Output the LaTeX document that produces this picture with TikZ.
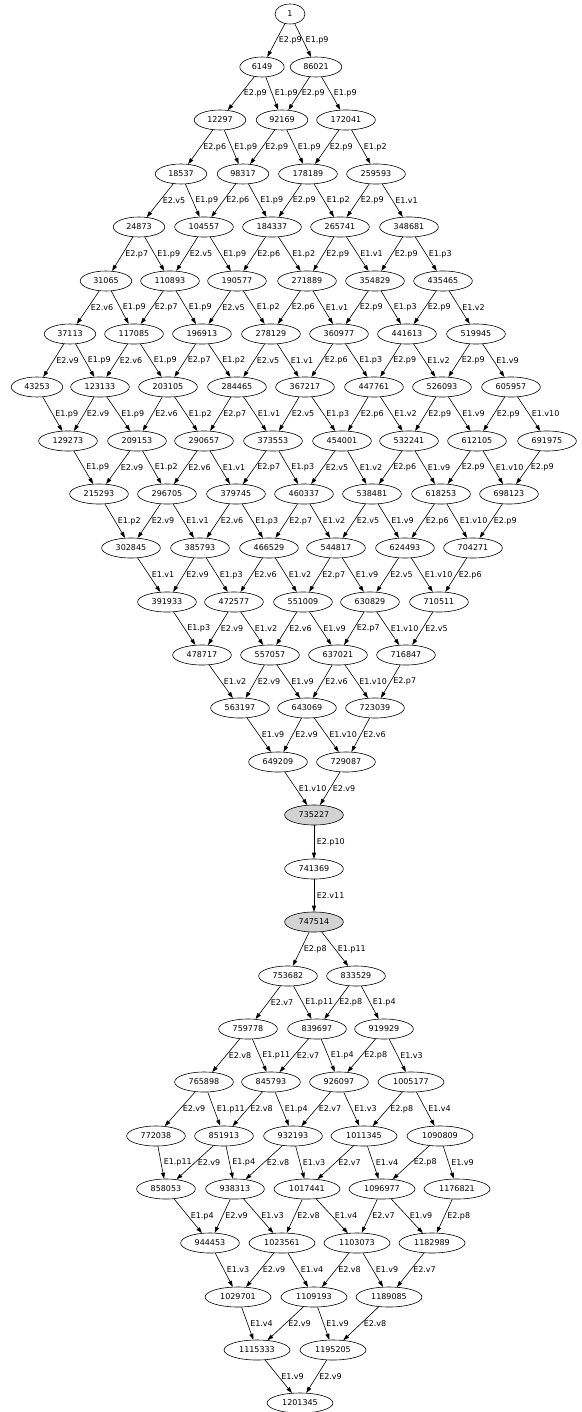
\documentclass[tikz,border=0pt]{standalone}
\usepackage{fontspec}
\setmainfont{DejaVu Sans}
\usepackage{tikz}
\usetikzlibrary{arrows.meta,shapes.geometric}
\definecolor{higray}{HTML}{D3D3D3}

\begin{document}
\begin{tikzpicture}[x=1pt,y=-1pt,font=\fontsize{8}{9}\selectfont,
  vtx/.style={draw,line width=0.6pt,ellipse,inner xsep=5.5pt,inner ysep=1pt,
              minimum width=30pt,minimum height=20pt},
  vtxhi/.style={vtx,fill=higray},
  arr/.style={line width=0.6pt,-{Triangle[length=6pt,width=4pt]}},
  lbl/.style={midway,anchor=west,inner sep=1pt,xshift=1.5pt}]
  \useasboundingbox (0,0) rectangle (581,1412);
  \node[vtx] (n1) at (290,14) {1};
  \node[vtx] (n6149) at (262,67) {6149};
  \node[vtx] (n86021) at (316,67) {86021};
  \node[vtx] (n12297) at (220,120) {12297};
  \node[vtx] (n92169) at (282,120) {92169};
  \node[vtx] (n172041) at (346,120) {172041};
  \node[vtx] (n18537) at (181,174) {18537};
  \node[vtx] (n98317) at (243,174) {98317};
  \node[vtx] (n178189) at (308,174) {178189};
  \node[vtx] (n259593) at (376,174) {259593};
  \node[vtx] (n24873) at (139,227) {24873};
  \node[vtx] (n104557) at (204,227) {104557};
  \node[vtx] (n184337) at (272,227) {184337};
  \node[vtx] (n265741) at (340,227) {265741};
  \node[vtx] (n348681) at (409,227) {348681};
  \node[vtx] (n31065) at (106,281) {31065};
  \node[vtx] (n110893) at (170,281) {110893};
  \node[vtx] (n190577) at (237,281) {190577};
  \node[vtx] (n271889) at (307,281) {271889};
  \node[vtx] (n354829) at (375,281) {354829};
  \node[vtx] (n435465) at (443,281) {435465};
  \node[vtx] (n37113) at (70,334) {37113};
  \node[vtx] (n117085) at (134,334) {117085};
  \node[vtx] (n196913) at (202,334) {196913};
  \node[vtx] (n278129) at (271,334) {278129};
  \node[vtx] (n360977) at (339,334) {360977};
  \node[vtx] (n441613) at (407,334) {441613};
  \node[vtx] (n519945) at (476,334) {519945};
  \node[vtx] (n43253) at (37,387) {43253};
  \node[vtx] (n123133) at (100,387) {123133};
  \node[vtx] (n203105) at (168,387) {203105};
  \node[vtx] (n284465) at (237,387) {284465};
  \node[vtx] (n367217) at (305,387) {367217};
  \node[vtx] (n447761) at (374,387) {447761};
  \node[vtx] (n526093) at (442,387) {526093};
  \node[vtx] (n605957) at (511,387) {605957};
  \node[vtx] (n129273) at (68,441) {129273};
  \node[vtx] (n209153) at (137,441) {209153};
  \node[vtx] (n290657) at (204,441) {290657};
  \node[vtx] (n373553) at (273,441) {373553};
  \node[vtx] (n454001) at (342,441) {454001};
  \node[vtx] (n532241) at (409,441) {532241};
  \node[vtx] (n612105) at (477,441) {612105};
  \node[vtx] (n691975) at (547,441) {691975};
  \node[vtx] (n215293) at (99,494) {215293};
  \node[vtx] (n296705) at (167,494) {296705};
  \node[vtx] (n379745) at (236,494) {379745};
  \node[vtx] (n460337) at (304,494) {460337};
  \node[vtx] (n538481) at (372,494) {538481};
  \node[vtx] (n618253) at (441,494) {618253};
  \node[vtx] (n698123) at (509,494) {698123};
  \node[vtx] (n302845) at (131,548) {302845};
  \node[vtx] (n385793) at (200,548) {385793};
  \node[vtx] (n466529) at (269,548) {466529};
  \node[vtx] (n544817) at (336,548) {544817};
  \node[vtx] (n624493) at (405,548) {624493};
  \node[vtx] (n704271) at (473,548) {704271};
  \node[vtx] (n391933) at (167,602) {391933};
  \node[vtx] (n472577) at (234,602) {472577};
  \node[vtx] (n551009) at (303,602) {551009};
  \node[vtx] (n630829) at (370,602) {630829};
  \node[vtx] (n710511) at (439,602) {710511};
  \node[vtx] (n478717) at (202,655) {478717};
  \node[vtx] (n557057) at (270,655) {557057};
  \node[vtx] (n637021) at (338,655) {637021};
  \node[vtx] (n716847) at (406,655) {716847};
  \node[vtx] (n563197) at (240,708) {563197};
  \node[vtx] (n643069) at (307,708) {643069};
  \node[vtx] (n723039) at (375,708) {723039};
  \node[vtx] (n649209) at (278,762) {649209};
  \node[vtx] (n729087) at (346,762) {729087};
  \node[vtxhi] (n735227) at (314,815) {735227};
  \node[vtx] (n741369) at (314,869) {741369};
  \node[vtxhi] (n747514) at (314,922) {747514};
  \node[vtx] (n753682) at (288,976) {753682};
  \node[vtx] (n833529) at (356,976) {833529};
  \node[vtx] (n759778) at (248,1029) {759778};
  \node[vtx] (n839697) at (317,1029) {839697};
  \node[vtx] (n919929) at (384,1029) {919929};
  \node[vtx] (n765898) at (204,1082) {765898};
  \node[vtx] (n845793) at (271,1082) {845793};
  \node[vtx] (n926097) at (339,1082) {926097};
  \node[vtx] (n1005177) at (411,1082) {1005177};
  \node[vtx] (n772038) at (156,1136) {772038};
  \node[vtx] (n851913) at (224,1136) {851913};
  \node[vtx] (n932193) at (293,1136) {932193};
  \node[vtx] (n1011345) at (364,1136) {1011345};
  \node[vtx] (n1090809) at (440,1136) {1090809};
  \node[vtx] (n858053) at (166,1189) {858053};
  \node[vtx] (n938313) at (235,1189) {938313};
  \node[vtx] (n1017441) at (307,1189) {1017441};
  \node[vtx] (n1096977) at (382,1189) {1096977};
  \node[vtx] (n1176821) at (457,1189) {1176821};
  \node[vtx] (n944453) at (210,1243) {944453};
  \node[vtx] (n1023561) at (282,1243) {1023561};
  \node[vtx] (n1103073) at (357,1243) {1103073};
  \node[vtx] (n1182989) at (432,1243) {1182989};
  \node[vtx] (n1029701) at (238,1297) {1029701};
  \node[vtx] (n1109193) at (314,1297) {1109193};
  \node[vtx] (n1189085) at (389,1297) {1189085};
  \node[vtx] (n1115333) at (257,1350) {1115333};
  \node[vtx] (n1195205) at (333,1350) {1195205};
  \node[vtx] (n1201345) at (300,1403) {1201345};

  \draw[arr] (n1)--node[lbl] {E2.p9}(n6149);
  \draw[arr] (n1)--node[lbl] {E1.p9}(n86021);
  \draw[arr] (n6149)--node[lbl] {E2.p9}(n12297);
  \draw[arr] (n6149)--node[lbl] {E1.p9}(n92169);
  \draw[arr] (n86021)--node[lbl] {E2.p9}(n92169);
  \draw[arr] (n86021)--node[lbl] {E1.p9}(n172041);
  \draw[arr] (n12297)--node[lbl] {E2.p6}(n18537);
  \draw[arr] (n12297)--node[lbl] {E1.p9}(n98317);
  \draw[arr] (n92169)--node[lbl] {E2.p9}(n98317);
  \draw[arr] (n92169)--node[lbl] {E1.p9}(n178189);
  \draw[arr] (n172041)--node[lbl] {E2.p9}(n178189);
  \draw[arr] (n172041)--node[lbl] {E1.p2}(n259593);
  \draw[arr] (n18537)--node[lbl] {E2.v5}(n24873);
  \draw[arr] (n18537)--node[lbl] {E1.p9}(n104557);
  \draw[arr] (n98317)--node[lbl] {E2.p6}(n104557);
  \draw[arr] (n98317)--node[lbl] {E1.p9}(n184337);
  \draw[arr] (n178189)--node[lbl] {E2.p9}(n184337);
  \draw[arr] (n178189)--node[lbl] {E1.p2}(n265741);
  \draw[arr] (n259593)--node[lbl] {E2.p9}(n265741);
  \draw[arr] (n259593)--node[lbl] {E1.v1}(n348681);
  \draw[arr] (n24873)--node[lbl] {E2.p7}(n31065);
  \draw[arr] (n24873)--node[lbl] {E1.p9}(n110893);
  \draw[arr] (n104557)--node[lbl] {E2.v5}(n110893);
  \draw[arr] (n104557)--node[lbl] {E1.p9}(n190577);
  \draw[arr] (n184337)--node[lbl] {E2.p6}(n190577);
  \draw[arr] (n184337)--node[lbl] {E1.p2}(n271889);
  \draw[arr] (n265741)--node[lbl] {E2.p9}(n271889);
  \draw[arr] (n265741)--node[lbl] {E1.v1}(n354829);
  \draw[arr] (n348681)--node[lbl] {E2.p9}(n354829);
  \draw[arr] (n348681)--node[lbl] {E1.p3}(n435465);
  \draw[arr] (n31065)--node[lbl] {E2.v6}(n37113);
  \draw[arr] (n31065)--node[lbl] {E1.p9}(n117085);
  \draw[arr] (n110893)--node[lbl] {E2.p7}(n117085);
  \draw[arr] (n110893)--node[lbl] {E1.p9}(n196913);
  \draw[arr] (n190577)--node[lbl] {E2.v5}(n196913);
  \draw[arr] (n190577)--node[lbl] {E1.p2}(n278129);
  \draw[arr] (n271889)--node[lbl] {E2.p6}(n278129);
  \draw[arr] (n271889)--node[lbl] {E1.v1}(n360977);
  \draw[arr] (n354829)--node[lbl] {E2.p9}(n360977);
  \draw[arr] (n354829)--node[lbl] {E1.p3}(n441613);
  \draw[arr] (n435465)--node[lbl] {E2.p9}(n441613);
  \draw[arr] (n435465)--node[lbl] {E1.v2}(n519945);
  \draw[arr] (n37113)--node[lbl] {E2.v9}(n43253);
  \draw[arr] (n37113)--node[lbl] {E1.p9}(n123133);
  \draw[arr] (n117085)--node[lbl] {E2.v6}(n123133);
  \draw[arr] (n117085)--node[lbl] {E1.p9}(n203105);
  \draw[arr] (n196913)--node[lbl] {E2.p7}(n203105);
  \draw[arr] (n196913)--node[lbl] {E1.p2}(n284465);
  \draw[arr] (n278129)--node[lbl] {E2.v5}(n284465);
  \draw[arr] (n278129)--node[lbl] {E1.v1}(n367217);
  \draw[arr] (n360977)--node[lbl] {E2.p6}(n367217);
  \draw[arr] (n360977)--node[lbl] {E1.p3}(n447761);
  \draw[arr] (n441613)--node[lbl] {E2.p9}(n447761);
  \draw[arr] (n441613)--node[lbl] {E1.v2}(n526093);
  \draw[arr] (n519945)--node[lbl] {E2.p9}(n526093);
  \draw[arr] (n519945)--node[lbl] {E1.v9}(n605957);
  \draw[arr] (n43253)--node[lbl] {E1.p9}(n129273);
  \draw[arr] (n123133)--node[lbl] {E2.v9}(n129273);
  \draw[arr] (n123133)--node[lbl] {E1.p9}(n209153);
  \draw[arr] (n203105)--node[lbl] {E2.v6}(n209153);
  \draw[arr] (n203105)--node[lbl] {E1.p2}(n290657);
  \draw[arr] (n284465)--node[lbl] {E2.p7}(n290657);
  \draw[arr] (n284465)--node[lbl] {E1.v1}(n373553);
  \draw[arr] (n367217)--node[lbl] {E2.v5}(n373553);
  \draw[arr] (n367217)--node[lbl] {E1.p3}(n454001);
  \draw[arr] (n447761)--node[lbl] {E2.p6}(n454001);
  \draw[arr] (n447761)--node[lbl] {E1.v2}(n532241);
  \draw[arr] (n526093)--node[lbl] {E2.p9}(n532241);
  \draw[arr] (n526093)--node[lbl] {E1.v9}(n612105);
  \draw[arr] (n605957)--node[lbl] {E2.p9}(n612105);
  \draw[arr] (n605957)--node[lbl] {E1.v10}(n691975);
  \draw[arr] (n129273)--node[lbl] {E1.p9}(n215293);
  \draw[arr] (n209153)--node[lbl] {E2.v9}(n215293);
  \draw[arr] (n209153)--node[lbl] {E1.p2}(n296705);
  \draw[arr] (n290657)--node[lbl] {E2.v6}(n296705);
  \draw[arr] (n290657)--node[lbl] {E1.v1}(n379745);
  \draw[arr] (n373553)--node[lbl] {E2.p7}(n379745);
  \draw[arr] (n373553)--node[lbl] {E1.p3}(n460337);
  \draw[arr] (n454001)--node[lbl] {E2.v5}(n460337);
  \draw[arr] (n454001)--node[lbl] {E1.v2}(n538481);
  \draw[arr] (n532241)--node[lbl] {E2.p6}(n538481);
  \draw[arr] (n532241)--node[lbl] {E1.v9}(n618253);
  \draw[arr] (n612105)--node[lbl] {E2.p9}(n618253);
  \draw[arr] (n612105)--node[lbl] {E1.v10}(n698123);
  \draw[arr] (n691975)--node[lbl] {E2.p9}(n698123);
  \draw[arr] (n215293)--node[lbl] {E1.p2}(n302845);
  \draw[arr] (n296705)--node[lbl] {E2.v9}(n302845);
  \draw[arr] (n296705)--node[lbl] {E1.v1}(n385793);
  \draw[arr] (n379745)--node[lbl] {E2.v6}(n385793);
  \draw[arr] (n379745)--node[lbl] {E1.p3}(n466529);
  \draw[arr] (n460337)--node[lbl] {E2.p7}(n466529);
  \draw[arr] (n460337)--node[lbl] {E1.v2}(n544817);
  \draw[arr] (n538481)--node[lbl] {E2.v5}(n544817);
  \draw[arr] (n538481)--node[lbl] {E1.v9}(n624493);
  \draw[arr] (n618253)--node[lbl] {E2.p6}(n624493);
  \draw[arr] (n618253)--node[lbl] {E1.v10}(n704271);
  \draw[arr] (n698123)--node[lbl] {E2.p9}(n704271);
  \draw[arr] (n302845)--node[lbl] {E1.v1}(n391933);
  \draw[arr] (n385793)--node[lbl] {E2.v9}(n391933);
  \draw[arr] (n385793)--node[lbl] {E1.p3}(n472577);
  \draw[arr] (n466529)--node[lbl] {E2.v6}(n472577);
  \draw[arr] (n466529)--node[lbl] {E1.v2}(n551009);
  \draw[arr] (n544817)--node[lbl] {E2.p7}(n551009);
  \draw[arr] (n544817)--node[lbl] {E1.v9}(n630829);
  \draw[arr] (n624493)--node[lbl] {E2.v5}(n630829);
  \draw[arr] (n624493)--node[lbl] {E1.v10}(n710511);
  \draw[arr] (n704271)--node[lbl] {E2.p6}(n710511);
  \draw[arr] (n391933)--node[lbl] {E1.p3}(n478717);
  \draw[arr] (n472577)--node[lbl] {E2.v9}(n478717);
  \draw[arr] (n472577)--node[lbl] {E1.v2}(n557057);
  \draw[arr] (n551009)--node[lbl] {E2.v6}(n557057);
  \draw[arr] (n551009)--node[lbl] {E1.v9}(n637021);
  \draw[arr] (n630829)--node[lbl] {E2.p7}(n637021);
  \draw[arr] (n630829)--node[lbl] {E1.v10}(n716847);
  \draw[arr] (n710511)--node[lbl] {E2.v5}(n716847);
  \draw[arr] (n478717)--node[lbl] {E1.v2}(n563197);
  \draw[arr] (n557057)--node[lbl] {E2.v9}(n563197);
  \draw[arr] (n557057)--node[lbl] {E1.v9}(n643069);
  \draw[arr] (n637021)--node[lbl] {E2.v6}(n643069);
  \draw[arr] (n637021)--node[lbl] {E1.v10}(n723039);
  \draw[arr] (n716847)--node[lbl] {E2.p7}(n723039);
  \draw[arr] (n563197)--node[lbl] {E1.v9}(n649209);
  \draw[arr] (n643069)--node[lbl] {E2.v9}(n649209);
  \draw[arr] (n643069)--node[lbl] {E1.v10}(n729087);
  \draw[arr] (n723039)--node[lbl] {E2.v6}(n729087);
  \draw[arr] (n649209)--node[lbl] {E1.v10}(n735227);
  \draw[arr] (n729087)--node[lbl] {E2.v9}(n735227);
  \draw[arr] (n735227)--node[lbl] {E2.p10}(n741369);
  \draw[arr] (n741369)--node[lbl] {E2.v11}(n747514);
  \draw[arr] (n747514)--node[lbl] {E2.p8}(n753682);
  \draw[arr] (n747514)--node[lbl] {E1.p11}(n833529);
  \draw[arr] (n753682)--node[lbl] {E2.v7}(n759778);
  \draw[arr] (n753682)--node[lbl] {E1.p11}(n839697);
  \draw[arr] (n833529)--node[lbl] {E2.p8}(n839697);
  \draw[arr] (n833529)--node[lbl] {E1.p4}(n919929);
  \draw[arr] (n759778)--node[lbl] {E2.v8}(n765898);
  \draw[arr] (n759778)--node[lbl] {E1.p11}(n845793);
  \draw[arr] (n839697)--node[lbl] {E2.v7}(n845793);
  \draw[arr] (n839697)--node[lbl] {E1.p4}(n926097);
  \draw[arr] (n919929)--node[lbl] {E2.p8}(n926097);
  \draw[arr] (n919929)--node[lbl] {E1.v3}(n1005177);
  \draw[arr] (n765898)--node[lbl] {E2.v9}(n772038);
  \draw[arr] (n765898)--node[lbl] {E1.p11}(n851913);
  \draw[arr] (n845793)--node[lbl] {E2.v8}(n851913);
  \draw[arr] (n845793)--node[lbl] {E1.p4}(n932193);
  \draw[arr] (n926097)--node[lbl] {E2.v7}(n932193);
  \draw[arr] (n926097)--node[lbl] {E1.v3}(n1011345);
  \draw[arr] (n1005177)--node[lbl] {E2.p8}(n1011345);
  \draw[arr] (n1005177)--node[lbl] {E1.v4}(n1090809);
  \draw[arr] (n772038)--node[lbl] {E1.p11}(n858053);
  \draw[arr] (n851913)--node[lbl] {E2.v9}(n858053);
  \draw[arr] (n851913)--node[lbl] {E1.p4}(n938313);
  \draw[arr] (n932193)--node[lbl] {E2.v8}(n938313);
  \draw[arr] (n932193)--node[lbl] {E1.v3}(n1017441);
  \draw[arr] (n1011345)--node[lbl] {E2.v7}(n1017441);
  \draw[arr] (n1011345)--node[lbl] {E1.v4}(n1096977);
  \draw[arr] (n1090809)--node[lbl] {E2.p8}(n1096977);
  \draw[arr] (n1090809)--node[lbl] {E1.v9}(n1176821);
  \draw[arr] (n858053)--node[lbl] {E1.p4}(n944453);
  \draw[arr] (n938313)--node[lbl] {E2.v9}(n944453);
  \draw[arr] (n938313)--node[lbl] {E1.v3}(n1023561);
  \draw[arr] (n1017441)--node[lbl] {E2.v8}(n1023561);
  \draw[arr] (n1017441)--node[lbl] {E1.v4}(n1103073);
  \draw[arr] (n1096977)--node[lbl] {E2.v7}(n1103073);
  \draw[arr] (n1096977)--node[lbl] {E1.v9}(n1182989);
  \draw[arr] (n1176821)--node[lbl] {E2.p8}(n1182989);
  \draw[arr] (n944453)--node[lbl] {E1.v3}(n1029701);
  \draw[arr] (n1023561)--node[lbl] {E2.v9}(n1029701);
  \draw[arr] (n1023561)--node[lbl] {E1.v4}(n1109193);
  \draw[arr] (n1103073)--node[lbl] {E2.v8}(n1109193);
  \draw[arr] (n1103073)--node[lbl] {E1.v9}(n1189085);
  \draw[arr] (n1182989)--node[lbl] {E2.v7}(n1189085);
  \draw[arr] (n1029701)--node[lbl] {E1.v4}(n1115333);
  \draw[arr] (n1109193)--node[lbl] {E2.v9}(n1115333);
  \draw[arr] (n1109193)--node[lbl] {E1.v9}(n1195205);
  \draw[arr] (n1189085)--node[lbl] {E2.v8}(n1195205);
  \draw[arr] (n1115333)--node[lbl] {E1.v9}(n1201345);
  \draw[arr] (n1195205)--node[lbl] {E2.v9}(n1201345);
\end{tikzpicture}
\end{document}
